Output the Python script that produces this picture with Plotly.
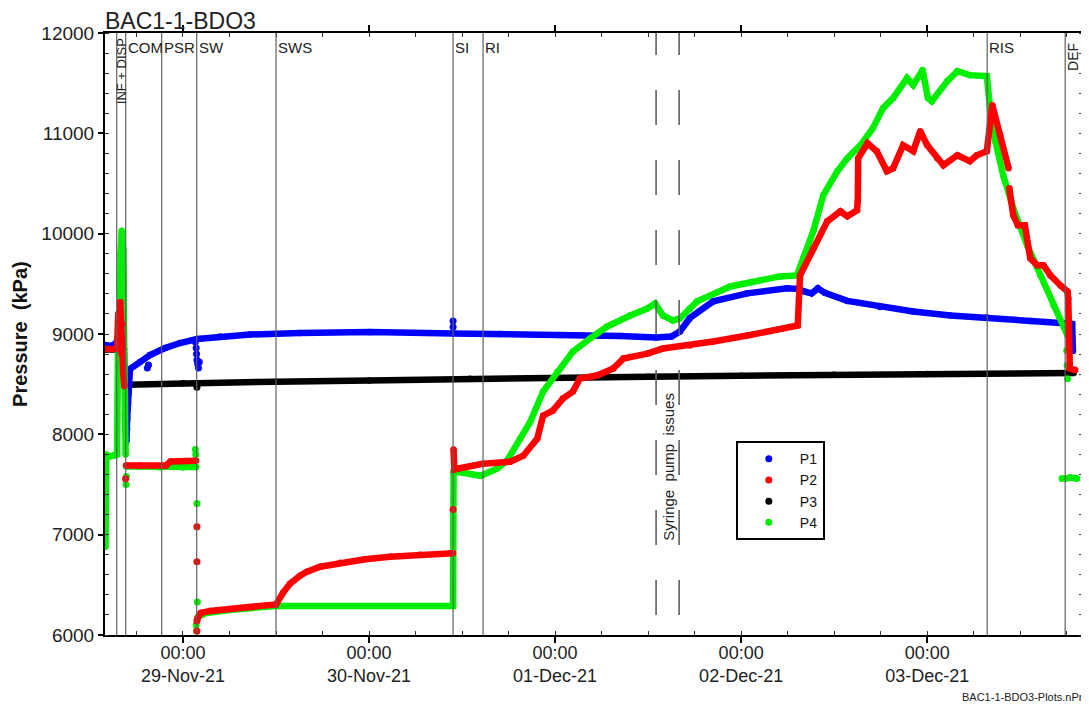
import plotly.graph_objects as go
import pandas as pd

# ---------------- data (hours after 29-Nov-21 00:00, pressure in kPa) ----------------
T0 = pd.Timestamp("2021-11-29 00:00")

P1_H = [-10.06, -9.2, -8.6, -8.3, -7.9, -7.6, -7.45, -7.35, -7.3, -7.2, -7.1, -7.0, -6.9, -6.84,
        -5.55, -4.26, -2.32, -0.39, 1.81, 4.77, 8.65, 15.1, 24.1, 34.84, 40.9, 48.6, 56.4, 61.0,
        63.0, 64.1, 65.4, 68.4, 72.8, 77.9, 79.2, 80.3, 81.1, 81.9, 82.8, 85.7, 89.9, 94.2, 99.0,
        103.7, 109.3, 114.1, 114.7, 114.8]
P1_V = [8890, 8880, 8910, 9000, 8950, 8800, 8400, 8000, 7930, 8150, 8300, 8420, 8500, 8650,
        8720, 8790, 8860, 8910, 8950, 8975, 8995, 9010, 9020, 9005, 9000, 8990, 8980, 8965,
        8975, 9025, 9160, 9325, 9405, 9455, 9450, 9420, 9405, 9455, 9410, 9330, 9270, 9225, 9185,
        9165, 9130, 9105, 9100, 8830]
P1_DOT_H = [-7.55, -7.4, -7.25, -4.6, -4.45, 1.6, 1.7, 1.75, 1.8, 1.9, 2.0, 2.1, 34.84, 34.84]
P1_DOT_V = [8600, 8200, 8050, 8660, 8690, 8920, 8860, 8800, 8740, 8700, 8660, 8720, 9130, 9070]

P2_H = [-10.06, -8.5, -8.35, -8.2, -8.1, -7.95, -7.85, -7.7, -7.55, None,
        -7.35, -5.5, -2.2, -1.6, 1.7, None,
        1.85, 2.3, 3.5, 6, 9, 12.0, 12.9, 13.8, 15.1, 16.0, 17.7, 20.3, 23.5, 26.7, 30.6, 34.5, 34.84, None,
        34.9, 35.0, 35.35, 38.7, 42.2, 43.9, 45.7, 46.45, 47.7, 49.0, 50.3, 51.2, 53.4, 55.5, 56.8,
        59.9, 61.9, 65.4, 68.4, 72.8, 79.3, 79.6, 81.3, 83.1, 84.8, 85.7, 86.95, 87.05, 87.1, 88.3,
        89.5, 90.8, 91.6, 92.9, 94.2, 95.1, 96.0, 97.3, 98.1, 99.9, 101.5, 102.4, 103.7, 104.4,
        105.4, 106.5, None,
        106.6, 107.1, 107.7, 108.6, 109.3, 110.2, 111.0, 111.9, 113.2, 114.1, 114.2, 114.3, 114.4, 115.1]
P2_V = [8850, 8850, 9200, 8900, 9320, 8800, 9100, 8600, 8480, None,
        7690, 7690, 7690, 7730, 7737, None,
        6160, 6220, 6240, 6260, 6280, 6305, 6420, 6510, 6590, 6630, 6680, 6720, 6755, 6780, 6800, 6815, 6815, None,
        7850, 7650, 7657, 7707, 7727, 7787, 7957, 8186, 8236, 8356, 8426, 8556, 8586, 8656, 8755,
        8805, 8855, 8885, 8925, 8985, 9085, 9584, 9853, 10123, 10223, 10173, 10233, 10330, 10752, 10902,
        10822, 10622, 10652, 10882, 10822, 11022, 10882, 10752, 10682, 10782, 10722, 10782, 10822, 11281,
        10982, 10652, None,
        10452, 10183, 10083, 10083, 9754, 9684, 9684, 9584, 9484, 9424, 9354, 8985, 8655, 8640]
P2_DOT_H = [-7.4, 1.8, 1.8, 1.8, 1.8, 34.84]
P2_DOT_V = [7557, 7080, 6730, 6140, 6040, 7250]

P3_H = [-10.06, -7.6, None, -7.3, 0, 12, 24, 37, 48, 60, 72, 84, 96, 114.9]
P3_V = [8845, 8845, None, 8495, 8510, 8525, 8537, 8555, 8565, 8575, 8585, 8595, 8602, 8612]
P3_DOT_H = [-7.5, -7.45, 1.8]
P3_DOT_V = [8575, 8540, 8470]

P4_H = [-10.0, -9.95, -9.9, -9.5, -8.8, -8.5, -8.35, -8.2, -8.05, -7.9, -7.8, -7.7, -7.6, -7.5, -7.4, None,
        -7.3, -3.0, 0, 1.7, None,
        1.9, 3, 6, 12.0, 34.84, 34.9, 35.35, 38.4, 40.5, 41.8, 43.5, 44.8, 46.45, 48.3, 50.3, 52.5,
        54.7, 57.7, 59.9, 60.9, 61.9, 63.2, 64.1, 65.4, 66.3, 70.6, 77.0, 79.2, 80.0, 81.3, 82.6,
        84.4, 85.7, 87.4, 89.0, 90.3, 91.6, 93.4, 94.2, 95.4, 96.1, 96.6, 98.6, 99.9, 101.5, 103.7,
        104.1, 104.8, 105.8, 107.1, 108.9, 110.6, 112.3, 114.1]
P4_V = [6880, 7300, 7800, 7780, 7790, 7800, 9200, 8600, 9800, 10030, 9500, 9850, 9000, 8200, 7800, None,
        7680, 7670, 7670, 7675, None,
        6180, 6220, 6250, 6290, 6290, 7620, 7627, 7587, 7657, 7737, 7957, 8126, 8426, 8625, 8825, 8955,
        9075, 9185, 9254, 9304, 9185, 9135, 9155, 9254, 9325, 9474, 9574, 9584, 9754, 10023, 10383,
        10622, 10752, 10882, 11052, 11251, 11351, 11551, 11481, 11630, 11351, 11321, 11521, 11620, 11580, 11570,
        11251, 10922, 10582, 10253, 9884, 9584, 9284, 8985]
P4_DOT_H = [-7.35, -7.3, 1.6, 1.65, 1.8, 1.85, 1.7, 1.75, 114.0, 114.05, 114.1, 113.4, 113.9, 114.4, 114.9, 115.3]
P4_DOT_V = [7500, 7580, 7850, 7800, 7310, 6330, 6100, 6040, 8835, 8685, 8555, 7560, 7560, 7570, 7565, 7560]

EVENT_H = [-8.55, -7.39, -2.75, 1.77, 12.0, 34.84, 38.71, 103.74, 113.8]
LABEL_H = [-7.39, -2.75, 1.77, 12.0, 34.84, 38.71, 103.74]
LABELS = ["COM", "PSR", "SW", "SWS", "SI", "RI", "RIS"]
SYRINGE_H = [61.03, 64.0]

TICK_DAYS = ["29-Nov-21", "30-Nov-21", "01-Dec-21", "02-Dec-21", "03-Dec-21"]
TICK_H = [0, 24, 48, 72, 96]
X_RANGE_H = [-10.06, 116.1]

COLORS = {"P1": "#0000ff", "P2": "#ff0000", "P3": "#000000", "P4": "#00ee00"}
FONT = "Liberation Sans, Arial, sans-serif"


def to_time(hours):
    return [None if h is None else T0 + pd.Timedelta(hours=h) for h in hours]


fig = go.Figure()

series = [
    ("P3", P3_H, P3_V, P3_DOT_H, P3_DOT_V),
    ("P1", P1_H, P1_V, P1_DOT_H, P1_DOT_V),
    ("P4", P4_H, P4_V, P4_DOT_H, P4_DOT_V),
    ("P2", P2_H, P2_V, P2_DOT_H, P2_DOT_V),
]
for name, h, v, dh, dv in series:
    c = COLORS[name]
    fig.add_trace(go.Scatter(x=to_time(h), y=v, mode="lines+markers",
                             line=dict(color=c, width=6.5), marker=dict(color=c, size=6.5),
                             showlegend=False, hoverinfo="skip"))
    fig.add_trace(go.Scatter(x=to_time(dh), y=dv, mode="markers",
                             marker=dict(color=c, size=7), showlegend=False, hoverinfo="skip"))

for i, name in enumerate(["P1", "P2", "P3", "P4"]):
    fig.add_trace(go.Scatter(x=[None], y=[None], mode="markers", name=name,
                             marker=dict(color=COLORS[name], size=7), legendrank=i + 1))

shapes = []
for h in EVENT_H:
    t = T0 + pd.Timedelta(hours=h)
    shapes.append(dict(type="line", xref="x", yref="paper", x0=t, x1=t, y0=0, y1=1,
                       line=dict(color="#606060", width=1.2), layer="above"))
for h in SYRINGE_H:
    t = T0 + pd.Timedelta(hours=h)
    shapes.append(dict(type="line", xref="x", yref="paper", x0=t, x1=t, y0=0, y1=1,
                       line=dict(color="#606060", width=1.6, dash="0px,20px,35px,15px"), layer="above"))

annotations = []
for h, lab in zip(LABEL_H, LABELS):
    annotations.append(dict(x=T0 + pd.Timedelta(hours=h), y=1, xref="x", yref="paper",
                            text=lab, showarrow=False, xanchor="left", yanchor="top",
                            xshift=0, yshift=-4, font=dict(family=FONT, size=15, color="#222")))
annotations.append(dict(x=T0 + pd.Timedelta(hours=(EVENT_H[0] + EVENT_H[1]) / 2), y=1, xref="x", yref="paper",
                        text="INF + DISP", textangle=-90, showarrow=False, xanchor="center",
                        yanchor="top", yshift=-3, font=dict(family=FONT, size=13, color="#222")))
annotations.append(dict(x=T0 + pd.Timedelta(hours=114.8), y=1, xref="x", yref="paper",
                        text="DEF", textangle=-90, showarrow=False, xanchor="center",
                        yanchor="top", yshift=-8, font=dict(family=FONT, size=14, color="#222")))
annotations.append(dict(x=T0 + pd.Timedelta(hours=sum(SYRINGE_H) / 2), y=0.279, xref="x", yref="paper",
                        text="Syringe&nbsp;&nbsp;pump&nbsp;&nbsp;issues", textangle=-90, showarrow=False,
                        xanchor="center", yanchor="middle", font=dict(family=FONT, size=15, color="#222")))
annotations.append(dict(x=0, y=1, xref="paper", yref="paper", text="BAC1-1-BDO3", showarrow=False,
                        xanchor="left", yanchor="bottom", xshift=-2, yshift=-3,
                        font=dict(family=FONT, size=23, color="#222")))
annotations.append(dict(x=-0.087, y=0.5, xref="paper", yref="paper",
                        text="<b>Pressure&nbsp;&nbsp;(kPa)</b>",
                        textangle=-90, showarrow=False, xanchor="center", yanchor="middle",
                        font=dict(family=FONT, size=20, color="#111")))
annotations.append(dict(x=0.874, y=-0.103, xref="paper", yref="paper", text="BAC1-1-BDO3-Plots.nPr",
                        showarrow=False, xanchor="left", yanchor="middle",
                        font=dict(family=FONT, size=11, color="#222")))

fig.update_layout(
    width=1089, height=707,
    margin=dict(l=97, r=14, t=25, b=80),
    paper_bgcolor="white", plot_bgcolor="white",
    font=dict(family=FONT, color="#222"),
    shapes=shapes, annotations=annotations,
    legend=dict(x=0.645, y=0.322, xanchor="left", yanchor="top", bgcolor="white",
                bordercolor="black", borderwidth=2, font=dict(family=FONT, size=14, color="#111"),
                itemwidth=52, tracegroupgap=0),
)
fig.update_xaxes(
    type="date",
    range=to_time(X_RANGE_H),
    tickmode="array", tickvals=to_time(TICK_H),
    ticktext=["00:00<br>" + d for d in TICK_DAYS],
    ticks="outside", ticklen=6, tickwidth=1.5, tickcolor="black",
    tickfont=dict(family=FONT, size=18, color="#222"), ticklabelstandoff=-6,
    showline=True, linecolor="black", linewidth=2, mirror="allticks",
    showgrid=False, zeroline=False, automargin=False,
    minor=dict(dtick=6 * 3600 * 1000, tick0=T0, ticks="inside", ticklen=4, tickwidth=1, tickcolor="#333"),
)
fig.update_yaxes(
    range=[6000, 12000], tickmode="linear", tick0=6000, dtick=1000, tickformat="d",
    ticks="outside", ticklen=5, tickwidth=1.5, tickcolor="black",
    tickfont=dict(family=FONT, size=19, color="#222"),
    showline=True, linecolor="black", linewidth=2, mirror="allticks",
    showgrid=False, zeroline=False, automargin=False,
    minor=dict(dtick=200, ticks="inside", ticklen=4, tickwidth=1, tickcolor="#333"),
)

fig.write_html("out.html")
